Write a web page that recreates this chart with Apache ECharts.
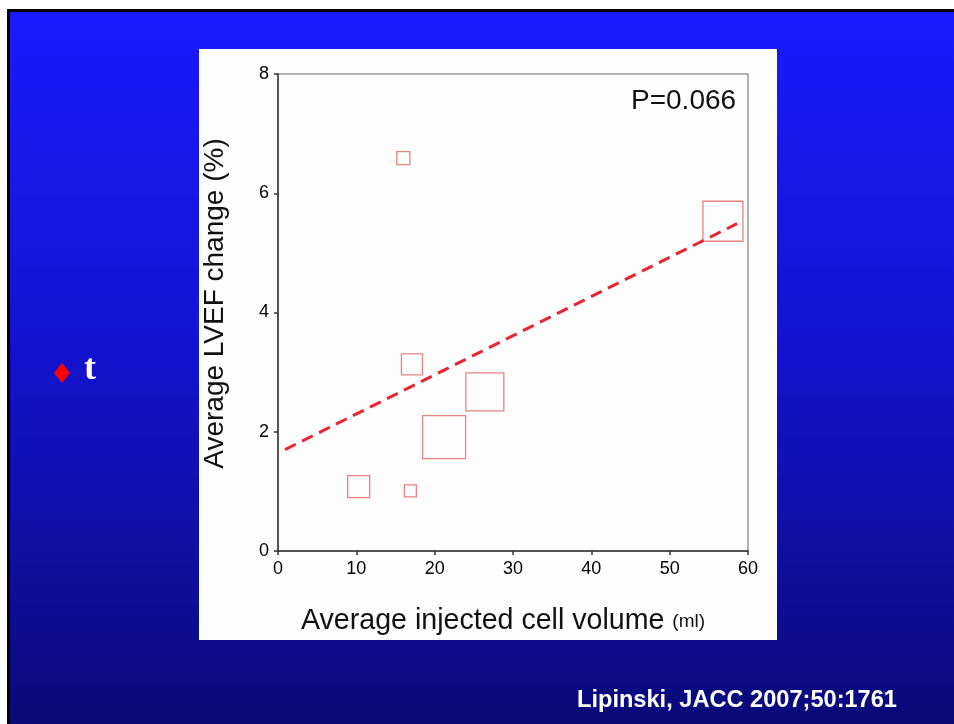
<!DOCTYPE html>
<html>
<head>
<meta charset="utf-8">
<script src="https://cdn.jsdelivr.net/npm/echarts@6/dist/echarts.min.js"></script>
<style>
  html, body { margin: 0; padding: 0; background: #fff; }
  #frame {
    position: absolute; left: 7px; top: 9px; width: 944px; height: 715px;
    border-left: 3px solid #000; border-top: 3px solid #000;
    background: linear-gradient(to bottom, #1a1aff 0%, #1313cc 50%, #0a0a78 100%);
  }
  #chart { position: absolute; left: 0; top: 0; width: 954px; height: 724px; }
</style>
</head>
<body>
<div id="frame"></div>
<div id="chart"></div>
<script>
// cell volume (ml), LVEF change (%), square size (px)
const volume = [16.0, 17.1, 21.2, 26.4, 10.3, 16.9, 56.8];
const lvef = [6.59, 3.13, 1.91, 2.67, 1.08, 1.01, 5.53];
const boxSize = [13, 21, 43, 38, 22, 12, 40];
// dashed regression line
const trendX = [0.9, 58.6];
const trendY = [1.70, 5.49];
const xTicks = [0, 10, 20, 30, 40, 50, 60];
const yTicks = [0, 2, 4, 6, 8];

const chart = echarts.init(document.getElementById("chart"));

const labelFont = "Arial, 'Liberation Sans', Helvetica, sans-serif";

chart.setOption({
  backgroundColor: "transparent",
  animation: false,
  graphic: [
    {
      type: "rect",
      z: -10,
      shape: { x: 199, y: 49, width: 578, height: 591 },
      style: { fill: "#fdfdfe" },
    },
    {
      type: "text",
      left: 631,
      top: 87,
      style: { text: "P=0.066", fontSize: 28, fontFamily: labelFont, fill: "#111" },
    },
    {
      type: "polygon",
      shape: { points: [[62, 363], [70, 373], [62, 383], [54, 373]] },
      style: { fill: "#ff0000" },
    },
    {
      type: "text",
      left: 84,
      top: 352,
      style: {
        text: "t",
        fontSize: 36,
        fontWeight: "bold",
        fontFamily: "'Liberation Serif', 'Times New Roman', serif",
        fill: "#fff",
      },
    },
    {
      type: "text",
      left: 577,
      top: 688,
      style: {
        text: "Lipinski, JACC 2007;50:1761",
        fontSize: 23.6,
        fontWeight: "bold",
        fontFamily: labelFont,
        fill: "#fff",
      },
    },
  ],
  grid: {
    left: 278,
    top: 74,
    right: 206,
    bottom: 173,
    show: true,
    borderColor: "#666",
    borderWidth: 1,
    backgroundColor: "transparent",
  },
  xAxis: {
    type: "value",
    min: xTicks[0],
    max: xTicks[xTicks.length - 1],
    interval: 10,
    name: "Average injected cell volume {s|(ml)}",
    nameLocation: "middle",
    nameGap: 56,
    nameTextStyle: {
      fontSize: 28.6,
      fontFamily: labelFont,
      color: "#111",
      padding: [0, 20, 0, 0],
      rich: { s: { fontSize: 19, fontFamily: labelFont, color: "#111" } },
    },
    axisLine: { lineStyle: { color: "#333", width: 1.5 } },
    axisTick: { length: 4, lineStyle: { color: "#333", width: 1.5 } },
    axisLabel: { fontSize: 18, fontFamily: labelFont, color: "#000", margin: 9 },
    splitLine: { show: false },
  },
  yAxis: {
    type: "value",
    min: yTicks[0],
    max: yTicks[yTicks.length - 1],
    interval: 2,
    name: "Average LVEF change (%)",
    nameLocation: "middle",
    nameGap: 49,
    nameTextStyle: {
      fontSize: 28,
      fontFamily: labelFont,
      color: "#111",
      padding: [0, 0, 0, 18],
    },
    axisLine: { lineStyle: { color: "#333", width: 1.5 } },
    axisTick: { length: 4, lineStyle: { color: "#333", width: 1.5 } },
    axisLabel: { fontSize: 18, fontFamily: labelFont, color: "#000", margin: 9 },
    splitLine: { show: false },
  },
  series: [
    {
      type: "line",
      data: trendX.map((x, i) => [x, trendY[i]]),
      symbol: "none",
      lineStyle: { color: "#e8262f", width: 3, type: [12, 7] },
      z: 3,
    },
    {
      type: "scatter",
      data: volume.map((x, i) => [x, lvef[i], boxSize[i]]),
      symbol: "rect",
      symbolSize: (v) => v[2],
      itemStyle: { color: "rgba(0,0,0,0)", borderColor: "#e06464", borderWidth: 1.3 },
      z: 2,
    },
  ],
});
</script>
</body>
</html>
